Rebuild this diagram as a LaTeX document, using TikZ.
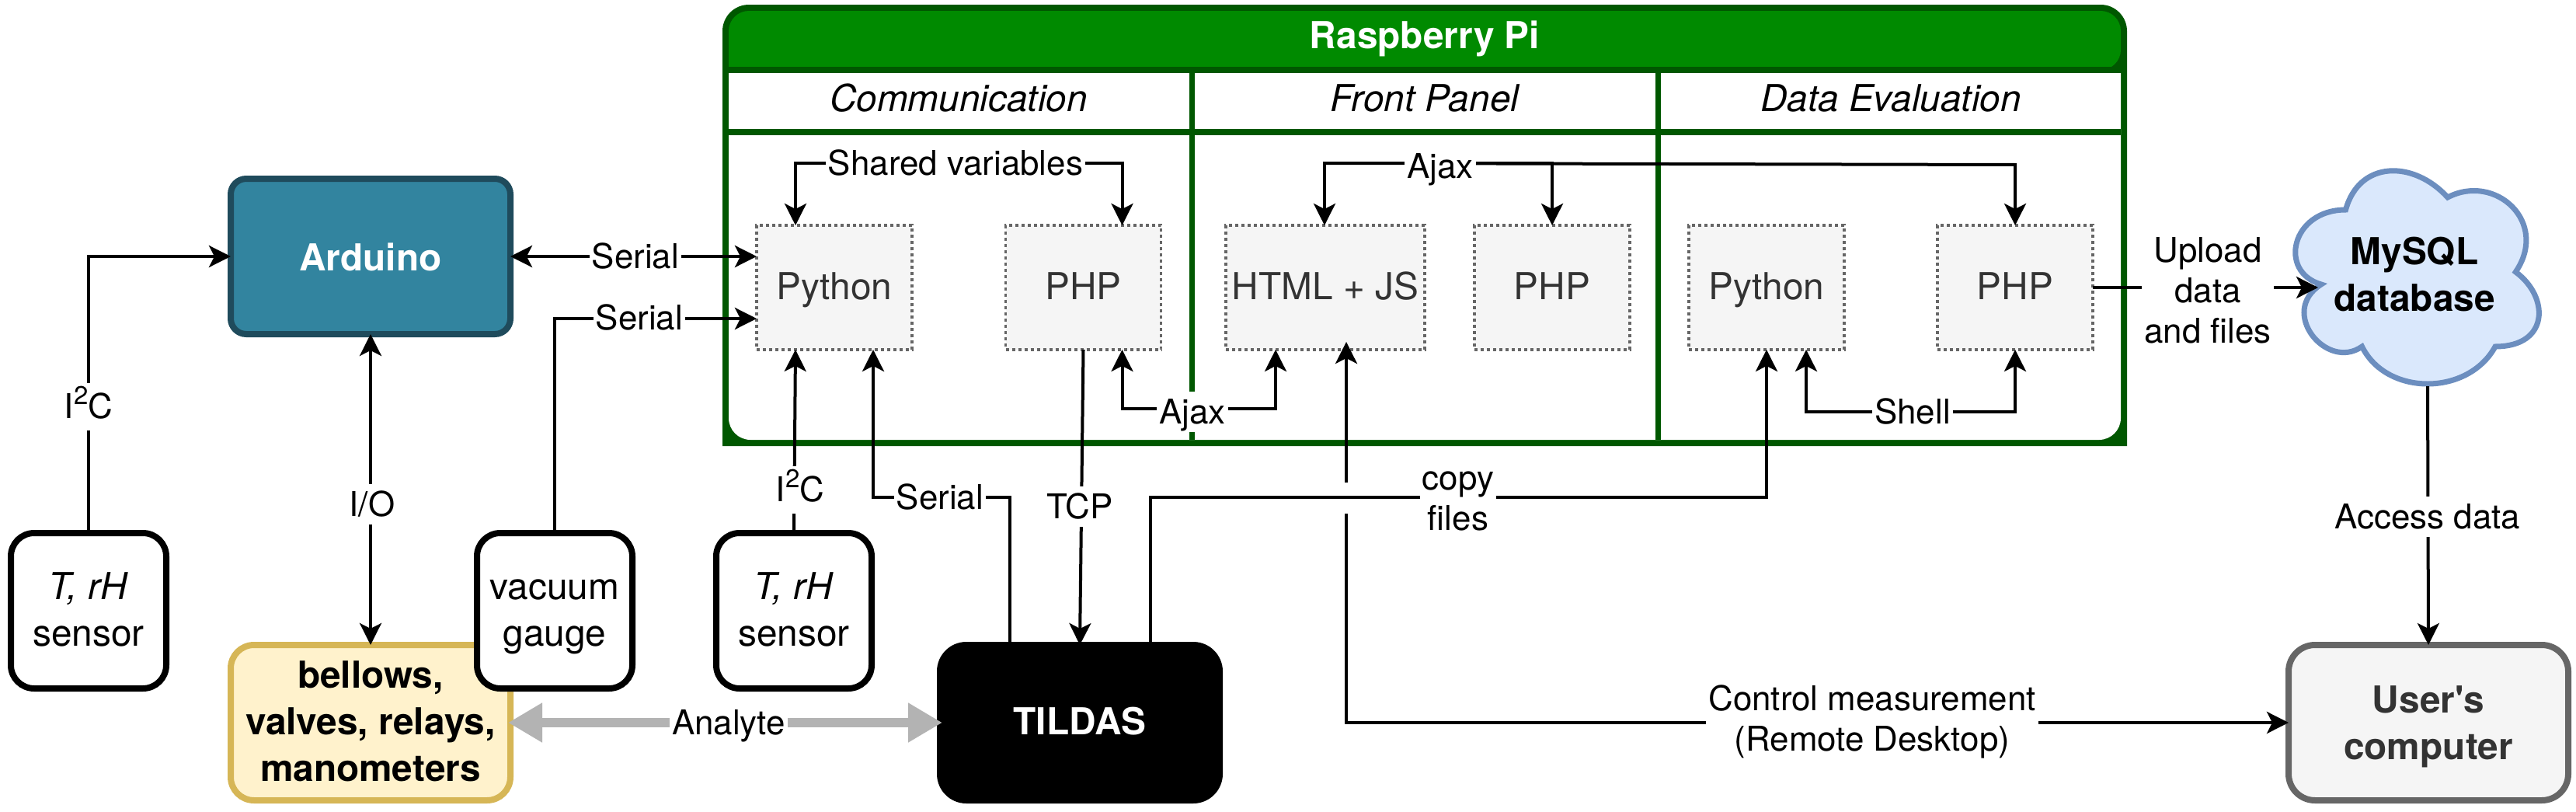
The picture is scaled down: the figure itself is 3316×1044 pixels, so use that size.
\documentclass[tikz,border=0pt]{standalone}
\usepackage{fontspec}
\setmainfont{TeX Gyre Heros}
\newfontfamily\straightq{TeX Gyre Heros}
\usetikzlibrary{arrows.meta,calc}
\newcommand{\nfz}{\fontsize{47.8}{60}\selectfont}
\newcommand{\lfz}{\fontsize{43.9}{52}\selectfont}
\definecolor{rpifill}{HTML}{008A00}
\definecolor{rpidark}{HTML}{005700}
\definecolor{ardfill}{HTML}{32849F}
\definecolor{arddark}{HTML}{1F4B5C}
\definecolor{yelfill}{HTML}{FFF2CC}
\definecolor{yeldark}{HTML}{D6B656}
\definecolor{cloudfill}{HTML}{DAE8FC}
\definecolor{clouddark}{HTML}{6C8EBF}
\definecolor{usrfill}{HTML}{F5F5F5}
\definecolor{usrdark}{HTML}{666666}
\definecolor{softtext}{HTML}{333333}
\definecolor{analytegray}{HTML}{B3B3B3}
\tikzset{
  box/.style={draw,line width=8pt,inner sep=0pt,outer sep=0pt,align=center,font=\nfz,rounded corners=30pt},
  sensorbox/.style={box,fill=white,minimum width=200pt,minimum height=200pt},
  softbox/.style={draw=usrdark,fill=usrfill,text=softtext,line width=3.5pt,dash pattern=on 4pt off 4pt,
    inner sep=0pt,outer sep=0pt,minimum width=200pt,minimum height=160pt,font=\nfz,align=center},
  lbl/.style={fill=white,font=\lfz,inner xsep=3pt,inner ysep=0pt,outer sep=0pt,align=center},
  conn/.style={line width=4pt,-{Stealth[length=28pt,width=28pt,inset=7pt]}},
  bothconn/.style={line width=4pt,{Stealth[length=28pt,width=28pt,inset=7pt]}-{Stealth[length=28pt,width=28pt,inset=7pt]}},
  heading/.style={font=\nfz\itshape,inner sep=0pt,outer sep=0pt}
}
\newcommand{\s}{\rule[\dimexpr-.3\baselineskip+5pt\relax]{0pt}{\baselineskip}}
\newcommand{\sh}{\rule[\dimexpr-.3\baselineskip+3pt\relax]{0pt}{\baselineskip}}
\newcommand{\itc}{I\raisebox{.42em}{\fontsize{33}{33}\selectfont 2}C}
\begin{document}
\begin{tikzpicture}[x=1pt,y=-1pt]
\useasboundingbox (0,0) rectangle (3316,1044);
% Raspberry Pi frame
\fill[rpidark,rounded corners=34pt] (930,300) -- (930,6) -- (2738,6) -- (2738,300) [sharp corners] -- (2738,574) -- (930,574) -- cycle;
\fill[rpifill,rounded corners=26pt] (938,90) -- (938,14) -- (2730,14) -- (2730,90) [sharp corners] -- cycle;
\fill[white] (938,94) -- (938,300) [rounded corners=28pt] -- (938,566) -- (2730,566) [sharp corners] -- (2730,94) -- cycle;
\fill[rpidark] (938,86) rectangle (2730,94);
\fill[rpidark] (938,166) rectangle (2730,174);
\fill[rpidark] (1530.5,94) rectangle (1537.5,566);
\fill[rpidark] (2130.5,94) rectangle (2137.5,566);
\node[font=\nfz\bfseries,text=white,inner sep=0pt] (rpi) at (1834,45) {\s Raspberry Pi};
\node[heading] (comm) at (1234,128) {\sh Communication};
\node[heading] (front) at (1834,128) {\sh Front Panel};
\node[heading] (devl) at (2434,128) {\sh Data Evaluation};
% software boxes
\node[softbox] (py1) at (1074,370) {\sh Python};
\node[softbox] (php1) at (1394.5,370) {\sh PHP};
\node[softbox,minimum width=256pt] (html) at (1706,370) {\sh HTML + JS};
\node[softbox] (php2) at (1998,370) {\sh PHP};
\node[softbox] (py3) at (2274,370) {\sh Python};
\node[softbox] (php3) at (2594,370) {\sh PHP};
% outer boxes
\node[box,draw=arddark,fill=ardfill,text=white,font=\nfz\bfseries,rounded corners=20pt,minimum width=360pt,minimum height=200pt,text depth=0pt,text height=0pt] (ard) at (477,330) {\raisebox{-18pt}{Arduino}};
\node[box,draw=yeldark,fill=yelfill,font=\nfz\bfseries,minimum width=360pt,minimum height=200pt] (bel) at (477,930) {\sh bellows,\\\sh valves, relays,\\\sh manometers};
\node[sensorbox] (sen1) at (114,786) {\sh\textit{T, rH}\\\sh sensor};
\node[sensorbox] (gauge) at (714,786) {\sh vacuum\\\sh gauge};
\node[sensorbox] (sen2) at (1022,786) {\sh\textit{T, rH}\\\sh sensor};
\node[box,draw=black,fill=black,text=white,font=\nfz\bfseries,rounded corners=34pt,minimum width=360pt,minimum height=200pt] (til) at (1390,930) {\sh TILDAS};
\node[box,draw=usrdark,fill=usrfill,text=softtext,font=\nfz\bfseries,rounded corners=34pt,minimum width=360pt,minimum height=200pt] (usr) at (3126,930) {\s User{\straightq\bfseries '}s\\\s computer};
% cloud
\begin{scope}[shift={(2932,190)},x=350pt,y=-320pt]
\draw[draw=clouddark,fill=cloudfill,line width=7pt]
 (0.25,0.25) .. controls (0.05,0.25) and (0,0.5) .. (0.16,0.55)
 .. controls (0,0.66) and (0.18,0.9) .. (0.31,0.8)
 .. controls (0.4,1) and (0.7,1) .. (0.8,0.8)
 .. controls (1,0.8) and (1,0.6) .. (0.875,0.5)
 .. controls (1,0.3) and (0.8,0.1) .. (0.625,0.2)
 .. controls (0.5,0.05) and (0.3,0.05) .. (0.25,0.25) -- cycle;
\end{scope}
\node[font=\nfz\bfseries,align=center,inner sep=0pt] (db) at (3108,353) {\s MySQL\\\s database};
\coordinate (dbwest) at (2984,370);
\coordinate (dbsouth) at (3125,497);
% connectors
\draw[conn] (sen1.north) |- (ard.west);
\draw[bothconn] (ard.east) -- ($(py1.west)+(0,-40)$);
\draw[conn] (gauge.north) |- ($(py1.west)+(0,40)$);
\draw[bothconn] (ard.south) -- (bel.north);
\draw[line width=12.6pt,analytegray,shorten <=-3pt,shorten >=-3pt,{Triangle[length=44pt,width=48pt]}-{Triangle[length=44pt,width=48pt]}] (bel.east) -- (til.west);
\draw[bothconn] ($(py1.north)+(-50,0)$) -- ++(0,-80) -| ($(php1.north)+(50,0)$);
\draw[conn] (sen2.north) -- ($(py1.south)+(-50,0)$);
\draw[conn] ($(til.north)+(-90,0)$) |- (1124,640) -- ($(py1.south)+(50,0)$);
\draw[conn] (php1.south) -- (til.north);
\draw[bothconn] ($(php1.south)+(50,0)$) -- ++(0,76) -| ($(html.south)+(-64,0)$);
% remote desktop, with the jump where it crosses the copy line
\draw[bothconn] (usr.west) -| (1733,440);
\draw[white,line width=8pt] (1733,621) -- (1733,661);
\draw[bothconn] ($(html.north)+(-1,0)$) -- ++(0,-80) -| (php2.north);
\draw[conn] (1705,210) -- (2594,212) -- (php3.north);
\draw[conn] ($(til.north)+(91,0)$) |- (2274,640) -- (py3.south);
\draw[bothconn] ($(py3.south)+(51,0)$) -- ++(0,80) -| (php3.south);
\draw[conn] (php3.east) -- (dbwest);
\draw[conn] (dbsouth) -- (usr.north);
% labels
\node[lbl,minimum height=61pt] (li2ca) at (114,523) {\s\itc};
\node[lbl] (lser1) at (818,330) {\s Serial};
\node[lbl] (lser2) at (823,409) {\s Serial};
\node[lbl] (lio) at (479,649) {\s I/O};
\node[lbl] (lana) at (938,930) {\s Analyte};
\node[lbl] (lshared) at (1230,210) {\s Shared variables};
\node[lbl,minimum height=61pt] (li2cb) at (1030,630) {\s\itc};
\node[lbl] (lser3) at (1210,640) {\s Serial};
\node[lbl] (ltcp) at (1390,652) {\s TCP};
\node[lbl] (lajax1) at (1535,530) {\s Ajax};
\node[lbl] (lajax2) at (1854,214) {\s Ajax};
\node[lbl] (lshell) at (2462,530) {\s Shell};
\node[lbl] (lcopy) at (1877,641) {\s copy\\\s files};
\node[lbl] (lctl) at (2410,925) {\s Control measurement\\\s (Remote Desktop)};
\node[lbl] (lup) at (2842,374) {\s Upload\\\s data\\\s and files};
\node[lbl] (lacc) at (3125,665) {\s Access data};
\end{tikzpicture}
\end{document}
